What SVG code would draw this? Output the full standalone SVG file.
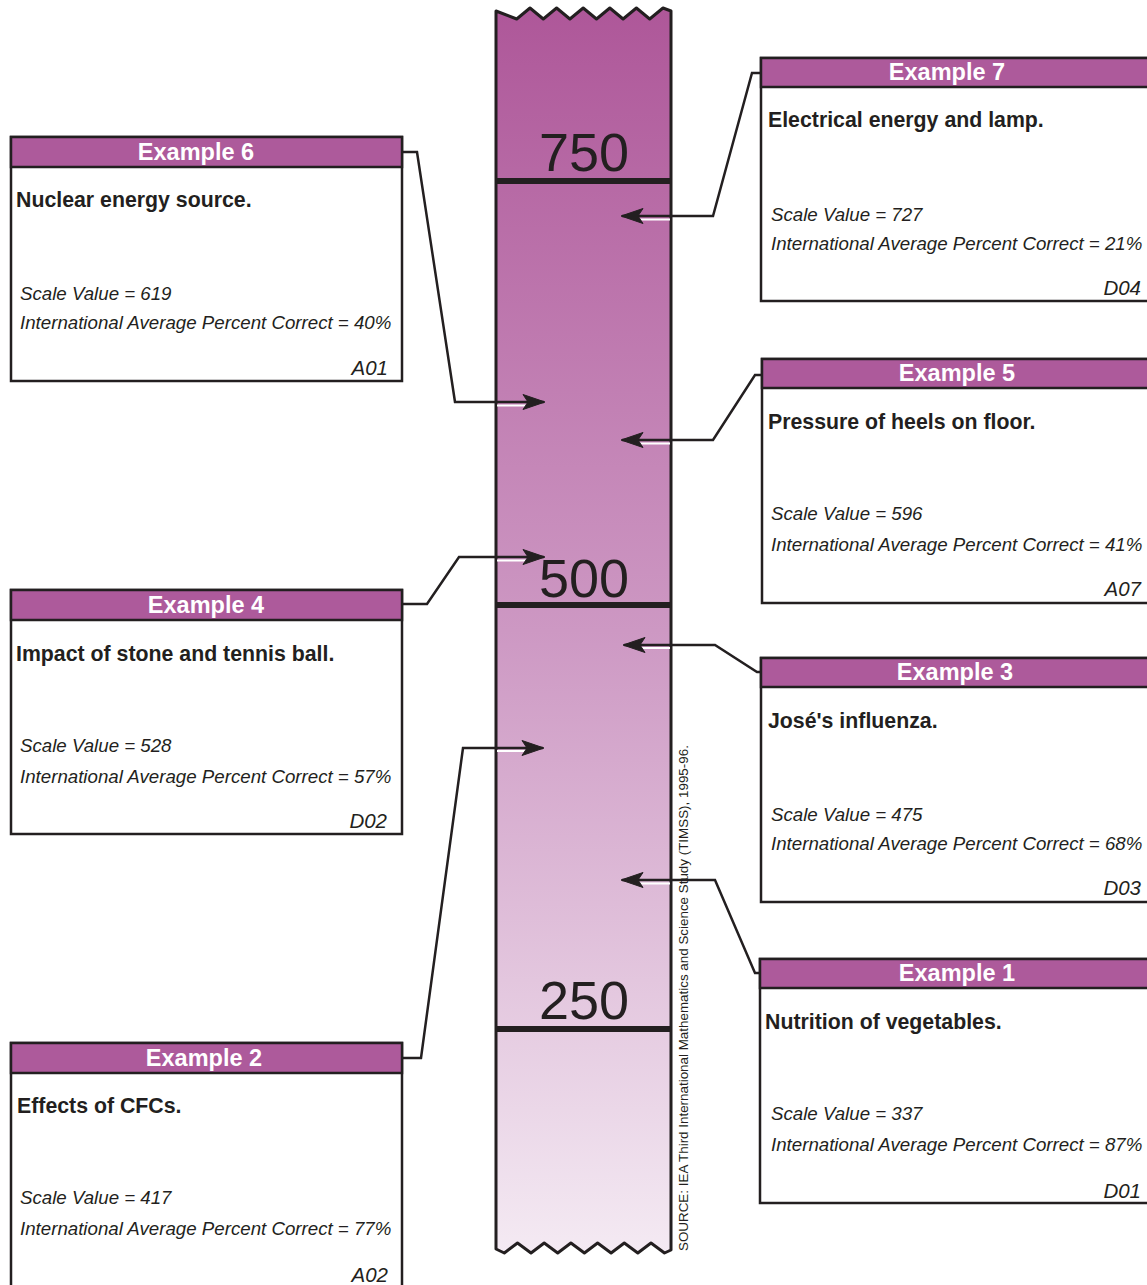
<svg xmlns="http://www.w3.org/2000/svg" width="1147" height="1285" viewBox="0 0 1147 1285">
<defs>
<linearGradient id="barg" x1="0" y1="0" x2="0" y2="1">
<stop offset="0" stop-color="#ae5799"/>
<stop offset="0.5" stop-color="#cd98c3"/>
<stop offset="1" stop-color="#f4eaf3"/>
</linearGradient>
<marker id="ah" markerUnits="userSpaceOnUse" markerWidth="28" markerHeight="20" refX="24" refY="10" orient="auto" viewBox="0 0 28 20">
<path d="M25,10 L3,2.5 L8,10 L3,17.5 Z" fill="#231f20" stroke="#231f20" stroke-width="1" stroke-linejoin="miter"/>
</marker>
<style>
.box{fill:#fff;stroke:#231f20;stroke-width:2.5}
.hdr{fill:#ad5a9b;stroke:#231f20;stroke-width:2.5}
.ttl{font-family:"Liberation Sans",Arial,sans-serif;font-weight:bold;font-size:23.5px;fill:#fff;text-anchor:middle}
.dsc{font-family:"Liberation Sans",Arial,sans-serif;font-weight:bold;font-size:21.3px;fill:#231f20}
.itl{font-family:"Liberation Sans",Arial,sans-serif;font-style:italic;font-size:18.7px;fill:#231f20}
.code{font-family:"Liberation Sans",Arial,sans-serif;font-style:italic;font-size:20.5px;fill:#231f20;text-anchor:end}
.num{font-family:"Liberation Sans",Arial,sans-serif;font-size:54px;fill:#231f20;text-anchor:middle}
.conn{fill:none;stroke:#231f20;stroke-width:2.5;marker-end:url(#ah)}
.shd{fill:none;stroke:#fff;stroke-width:2}
</style>
</defs>
<rect width="1147" height="1285" fill="#fff"/>

<g id="scale-bar">
<path d="M496,11 L516.7,19 L530,8 L543.3,19 L556.6,8 L569.9,19 L583.2,8 L596.5,19 L609.8,8 L623.1,19 L636.4,8 L649.7,19 L663,8 L671,11 L671,1250 L664.5,1253 L651,1243 L637.8,1253 L624.3,1243 L611.1,1253 L597.6,1243 L584.4,1253 L570.9,1243 L557.7,1253 L544.2,1243 L531,1253 L517.5,1243 L504.3,1253 L496,1249 Z" fill="url(#barg)" stroke="#231f20" stroke-width="3" stroke-linejoin="round"/>
<line x1="496" y1="181" x2="671" y2="181" stroke="#231f20" stroke-width="6"/>
<line x1="496" y1="605" x2="671" y2="605" stroke="#231f20" stroke-width="6"/>
<line x1="496" y1="1029" x2="671" y2="1029" stroke="#231f20" stroke-width="6"/>
<text class="num" x="584" y="171">750</text>
<text class="num" x="584" y="597">500</text>
<text class="num" x="584" y="1019">250</text>
</g>

<g id="connectors">
<path class="shd" d="M638,219.5 L670,219.5 M638,443.5 L670,443.5 M640,648 L670,648 M638,883.5 L670,883.5 M497,405.5 L528,405.5 M497,560.5 L528,560.5 M497,751 L526,751"/>
<path class="conn" d="M760,73 L752,73 L713,216 L622,216"/>
<path class="conn" d="M402,152 L417,152 L455,402 L544,402"/>
<path class="conn" d="M761,375 L755,375 L713,440 L622,440"/>
<path class="conn" d="M402,604 L427,604 L459,557 L544,557"/>
<path class="conn" d="M760,672 L757,672 L715,645 L624,645"/>
<path class="conn" d="M402,1058 L421,1058 L463,748 L543,748"/>
<path class="conn" d="M759,973 L755,973 L715,880 L622,880"/>
</g>

<g id="source">
<text transform="translate(688,1251) rotate(-90)" font-family="Liberation Sans, Arial, sans-serif" font-size="13.4" fill="#231f20">SOURCE:  IEA Third International Mathematics and Science Study (TIMSS), 1995-96.</text>
</g>

<g id="example6">
<rect class="box" x="11" y="137" width="391" height="244"/>
<rect class="hdr" x="11" y="137" width="391" height="30"/>
<text class="ttl" x="196" y="160">Example 6</text>
<text class="dsc" x="16" y="207">Nuclear energy source.</text>
<text class="itl" x="20" y="300">Scale Value = 619</text>
<text class="itl" x="20" y="329">International Average Percent Correct = 40%</text>
<text class="code" x="388" y="375">A01</text>
</g>

<g id="example4">
<rect class="box" x="11" y="590" width="391" height="244"/>
<rect class="hdr" x="11" y="590" width="391" height="30"/>
<text class="ttl" x="206" y="613">Example 4</text>
<text class="dsc" x="16" y="661">Impact of stone and tennis ball.</text>
<text class="itl" x="20" y="752">Scale Value = 528</text>
<text class="itl" x="20" y="783">International Average Percent Correct = 57%</text>
<text class="code" x="387" y="828">D02</text>
</g>

<g id="example2">
<rect class="box" x="11" y="1043" width="391" height="260"/>
<rect class="hdr" x="11" y="1043" width="391" height="30"/>
<text class="ttl" x="204" y="1066">Example 2</text>
<text class="dsc" x="17" y="1113">Effects of CFCs.</text>
<text class="itl" x="20" y="1204">Scale Value = 417</text>
<text class="itl" x="20" y="1235">International Average Percent Correct = 77%</text>
<text class="code" x="388" y="1282">A02</text>
</g>

<g id="example7">
<rect class="box" x="761" y="58" width="400" height="243"/>
<rect class="hdr" x="761" y="58" width="400" height="29"/>
<text class="ttl" x="947" y="80">Example 7</text>
<text class="dsc" x="768" y="127">Electrical energy and lamp.</text>
<text class="itl" x="771" y="221">Scale Value = 727</text>
<text class="itl" x="771" y="250">International Average Percent Correct = 21%</text>
<text class="code" x="1141" y="295">D04</text>
</g>

<g id="example5">
<rect class="box" x="762" y="359" width="400" height="244"/>
<rect class="hdr" x="762" y="359" width="400" height="29"/>
<text class="ttl" x="957" y="381">Example 5</text>
<text class="dsc" x="768" y="429">Pressure of heels on floor.</text>
<text class="itl" x="771" y="520">Scale Value = 596</text>
<text class="itl" x="771" y="551">International Average Percent Correct = 41%</text>
<text class="code" x="1141" y="596">A07</text>
</g>

<g id="example3">
<rect class="box" x="761" y="658" width="400" height="244"/>
<rect class="hdr" x="761" y="658" width="400" height="29"/>
<text class="ttl" x="955" y="680">Example 3</text>
<text class="dsc" x="768" y="728">José's influenza.</text>
<text class="itl" x="771" y="821">Scale Value = 475</text>
<text class="itl" x="771" y="850">International Average Percent Correct = 68%</text>
<text class="code" x="1141" y="895">D03</text>
</g>

<g id="example1">
<rect class="box" x="760" y="959" width="400" height="244"/>
<rect class="hdr" x="760" y="959" width="400" height="29"/>
<text class="ttl" x="957" y="981">Example 1</text>
<text class="dsc" x="765" y="1029">Nutrition of vegetables.</text>
<text class="itl" x="771" y="1120">Scale Value = 337</text>
<text class="itl" x="771" y="1151">International Average Percent Correct = 87%</text>
<text class="code" x="1141" y="1198">D01</text>
</g>
</svg>
